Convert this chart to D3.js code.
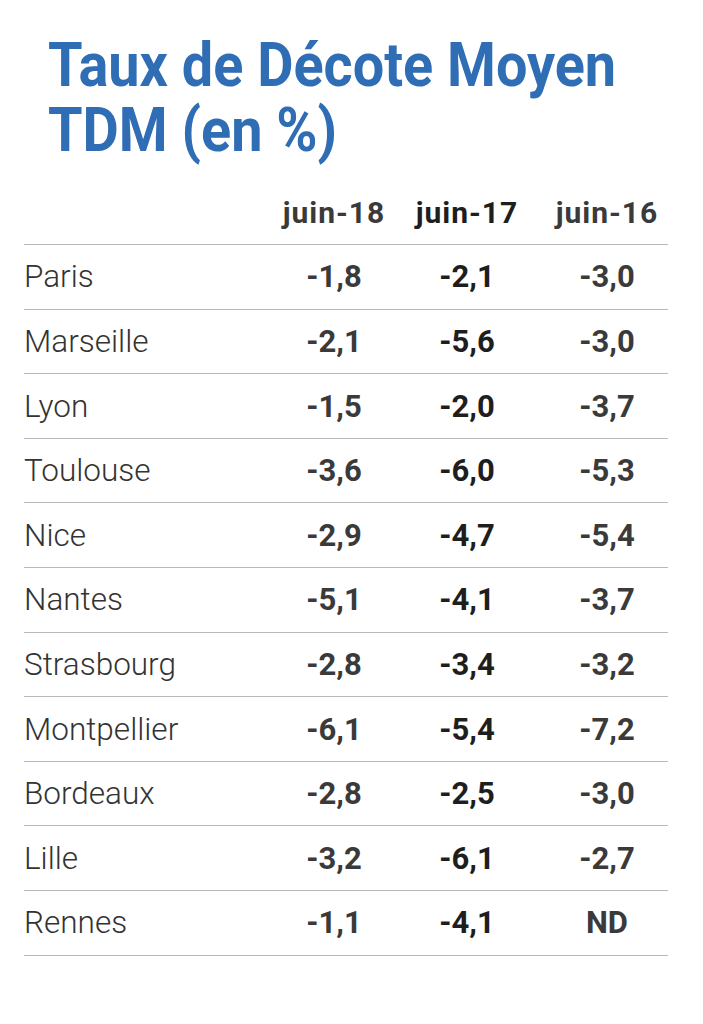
<!DOCTYPE html>
<html><head><meta charset="utf-8">
<script src="https://cdn.jsdelivr.net/npm/d3@7"></script>
<style>
html,body{margin:0;padding:0;background:#fff;}
svg{display:block;font-family:Roboto, "Noto Sans", sans-serif;}
</style></head>
<body>
<svg id="chart" width="703" height="1024"></svg>
<script>
const titleLines = ["Taux de Décote Moyen", "TDM (en %)"];
const columns = ["juin-18", "juin-17", "juin-16"];
const cities = ["Paris","Marseille","Lyon","Toulouse","Nice","Nantes","Strasbourg","Montpellier","Bordeaux","Lille","Rennes"];
const juin18 = ["-1,8","-2,1","-1,5","-3,6","-2,9","-5,1","-2,8","-6,1","-2,8","-3,2","-1,1"];
const juin17 = ["-2,1","-5,6","-2,0","-6,0","-4,7","-4,1","-3,4","-5,4","-2,5","-6,1","-4,1"];
const juin16 = ["-3,0","-3,0","-3,7","-5,3","-5,4","-3,7","-3,2","-7,2","-3,0","-2,7","ND"];
const seriesValues = [juin18, juin17, juin16];

const svg = d3.select("#chart");

// Title (one text block, two lines)
const title = svg.append("text")
  .attr("transform", "translate(48,86) scale(0.9,1)")
  .attr("font-size", 62).attr("font-weight", 700)
  .attr("fill", "#2f6db5");
titleLines.forEach((t, i) => {
  title.append("tspan").attr("x", 0).attr("y", i * 65).text(t);
});

// Scales
const y = d3.scaleBand().domain(cities).range([244, 244 + 64.6*cities.length]).paddingInner(0).paddingOuter(0);
const x = d3.scaleOrdinal().domain(columns).range([334, 467, 607]);
const colColor = d3.scaleOrdinal().domain(columns).range(["#3a3a3a", "#1e1e1e", "#3a3a3a"]);

// Header
svg.selectAll("text.head").data(columns).join("text")
  .attr("class", "head")
  .attr("x", d => x(d)).attr("y", 223)
  .attr("text-anchor", "middle")
  .attr("font-size", 30).attr("font-weight", 700)
  .attr("letter-spacing", 1)
  .attr("fill", d => colColor(d))
  .text(d => d);

// Row lines
const lineYs = [y.range()[0]].concat(cities.map(c => y(c) + y.bandwidth()));
svg.selectAll("line.rule").data(lineYs).join("line")
  .attr("class", "rule")
  .attr("x1", 24).attr("x2", 668)
  .attr("y1", d => Math.round(d) + 0.5).attr("y2", d => Math.round(d) + 0.5)
  .attr("stroke", "#b8b8b8").attr("stroke-width", 1);

// City names
svg.selectAll("text.city").data(cities).join("text")
  .attr("class", "city")
  .attr("x", 24)
  .attr("y", d => y(d) + y.bandwidth()/2 + 11)
  .attr("font-size", 31.5).attr("font-weight", 300)
  .attr("fill", "#333")
  .text(d => d);

// Values
columns.forEach((col, ci) => {
  svg.selectAll(`text.v${ci}`).data(seriesValues[ci]).join("text")
    .attr("class", `v${ci}`)
    .attr("x", x(col))
    .attr("y", (d, i) => y(cities[i]) + y.bandwidth()/2 + 11)
    .attr("text-anchor", "middle")
    .attr("font-size", 31).attr("font-weight", 700)
    .attr("fill", colColor(col))
    .text(d => d);
});
</script>
</body></html>
